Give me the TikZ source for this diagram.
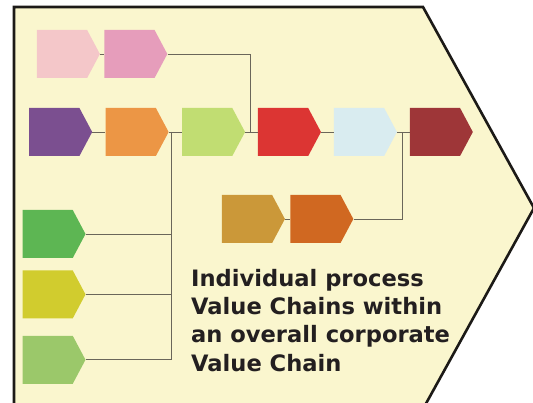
\documentclass[tikz,border=0pt]{standalone}
\usepackage{fontspec}
\setsansfont{DejaVu Sans}
\usetikzlibrary{positioning,shapes.symbols}

\definecolor{cPanel}{HTML}{FAF6CE}
\definecolor{cFrame}{HTML}{1C1A17}
\definecolor{cLink}{HTML}{6A665A}
\definecolor{cText}{HTML}{231F20}
\definecolor{cBlush}{HTML}{F4C7C9}
\definecolor{cRose}{HTML}{E69DBB}
\definecolor{cViolet}{HTML}{7B4F90}
\definecolor{cAmber}{HTML}{EC9645}
\definecolor{cLime}{HTML}{C1DD72}
\definecolor{cScarlet}{HTML}{DC3533}
\definecolor{cIce}{HTML}{D9ECF0}
\definecolor{cMaroon}{HTML}{9E3638}
\definecolor{cOchre}{HTML}{CB9839}
\definecolor{cRust}{HTML}{D06821}
\definecolor{cGrass}{HTML}{5DB653}
\definecolor{cMustard}{HTML}{D1CC2E}
\definecolor{cSage}{HTML}{9BC86A}

\tikzset{
    stage/.style={signal, signal to=east, signal pointer angle=124, minimum width=63pt, minimum height=48pt, inner sep=0pt, draw=none},
    link/.style={draw=cLink, line width=0.9pt},
    frame/.style={draw=cFrame, line width=2.6pt, fill=cPanel, line join=miter},
    caption/.style={font=\sffamily\bfseries\fontsize{22.6}{28.3}\selectfont, text=cText, align=left, inner sep=0pt},
}

\begin{document}
\begin{tikzpicture}
        [x=1pt, y=-1pt, node distance=13pt]

        \useasboundingbox (0,0) rectangle (533,403);

        % Corporate value chain outline
        \draw[frame] (14,7) -- (423,7) -- (534,208) -- (423,409) -- (14,409) -- cycle;

        % Main row of process stages
        \node[stage, fill=cViolet, anchor=west] (violet) at (29,132) {};
        \node[stage, fill=cAmber, right=of violet] (amber) {};
        \node[stage, fill=cLime, right=of amber] (lime) {};
        \node[stage, fill=cScarlet, right=12.5pt of lime] (scarlet) {};
        \node[stage, fill=cIce, right=12.5pt of scarlet] (ice) {};
        \node[stage, fill=cMaroon, right=12.5pt of ice] (maroon) {};

        % Feeder chain on top
        \node[stage, fill=cBlush, anchor=west] (blush) at (36.7,54) {};
        \node[stage, fill=cRose, right=4pt of blush] (rose) {};

        % Feeder chain below
        \node[stage, fill=cOchre, anchor=west] (ochre) at (221.7,219) {};
        \node[stage, fill=cRust, right=5pt of ochre] (rust) {};

        % Column on the left
        \node[stage, fill=cGrass, anchor=west] (grass) at (22.3,234) {};
        \node[stage, fill=cMustard, below=12pt of grass] (mustard) {};
        \node[stage, fill=cSage, below=17pt of mustard] (sage) {};

        % Branch points
        \coordinate (trunk) at ([xshift=3pt]amber.east);
        \coordinate (merge) at ([xshift=5pt]ice.east);

        % Links along the main row
        \draw[link] (violet.east) -- (amber.west);
        \draw[link] (amber.east) -- (lime.west);
        \draw[link] (lime.east) -- (scarlet.west);
        \draw[link] (scarlet.east) -- (ice.west);
        \draw[link] (ice.east) -- (maroon.west);

        % Links of the feeder chains
        \draw[link] (blush.east) -- (rose.west);
        \draw[link] (rose.east) -| ([xshift=5pt]lime.east);
        \draw[link] (ochre.east) -- (rust.west);
        \draw[link] (rust.east) -| (merge);

        % Links of the left column
        \draw[link] (trunk) |- (sage.east);
        \draw[link] (grass.east) -- (grass.east -| trunk);
        \draw[link] (mustard.east) -- (mustard.east -| trunk);

        % Caption
        \node[caption, anchor=north west] (note) at (191,269)
            {Individual process\\Value Chains within\\an overall corporate\\Value Chain};
    \end{tikzpicture}
\end{document}
